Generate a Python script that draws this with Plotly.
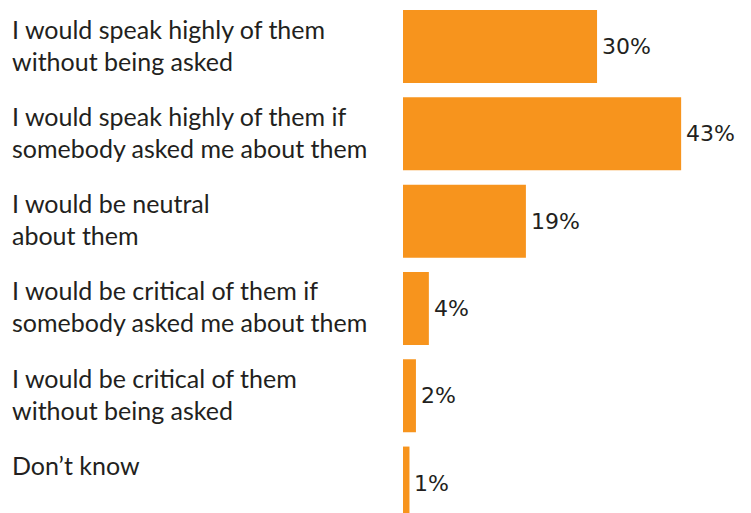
import plotly.graph_objects as go

# Survey responses: how people would talk about the organisation
categories = [
    ["I would speak highly of them", "without being asked"],
    ["I would speak highly of them if", "somebody asked me about them"],
    ["I would be neutral", "about them"],
    ["I would be critical of them if", "somebody asked me about them"],
    ["I would be critical of them", "without being asked"],
    ["Don\u2019t know"],
]
values = [30, 43, 19, 4, 2, 1]
value_labels = ["30%", "43%", "19%", "4%", "2%", "1%"]

ORANGE = "#F7941D"
TEXT = "#231F20"
W, H = 751, 513

positions = list(range(len(values)))

fig = go.Figure(
    go.Bar(
        x=values,
        y=positions,
        orientation="h",
        width=0.836,
        marker=dict(color=ORANGE, line=dict(width=0)),
        hoverinfo="skip",
    )
)

annotations = []
# category labels, one annotation per text line
for i, lines in enumerate(categories):
    for j, line in enumerate(lines):
        annotations.append(dict(
            xref="paper", x=10 / W, yref="y", y=i,
            text=line, showarrow=False, xanchor="left", yanchor="middle",
            yshift=18 - 32 * j,
            font=dict(family="Lato", size=25, color=TEXT),
        ))
# value labels at the end of each bar
for i, (v, lab) in enumerate(zip(values, value_labels)):
    annotations.append(dict(
        xref="x", x=v, yref="y", y=i,
        text=lab, showarrow=False, xanchor="left", yanchor="middle",
        xshift=3,
        font=dict(family="DejaVu Sans", size=22, color=TEXT),
    ))

fig.update_layout(
    width=W, height=H,
    margin=dict(l=0, r=0, t=0, b=0),
    paper_bgcolor="white", plot_bgcolor="white",
    showlegend=False,
    xaxis=dict(domain=[403 / W, 1], range=[0, 53.8], visible=False, fixedrange=True),
    yaxis=dict(range=[5.343, -0.533], visible=False, fixedrange=True),
    annotations=annotations,
)

fig.write_html("out.html")
